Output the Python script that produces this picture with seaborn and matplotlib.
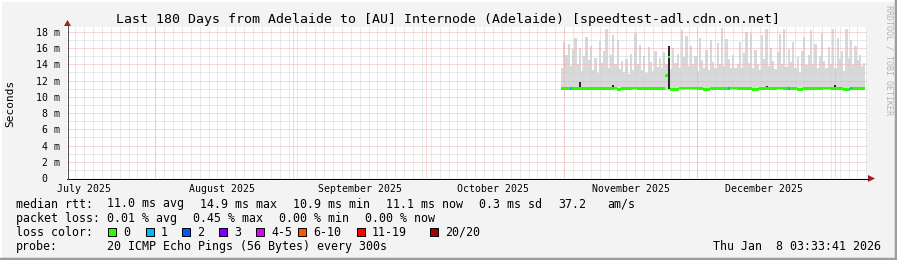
import numpy as np
import pandas as pd
import matplotlib
matplotlib.use("Agg")
import matplotlib.pyplot as plt
from matplotlib.patches import Polygon, Rectangle
from matplotlib.lines import Line2D
import seaborn as sns

# ---------------- data ----------------
end_time = pd.Timestamp("2026-01-08 03:33:41")
range_days = 180
data_start = pd.Timestamp("2025-10-31 07:00")
slot_hours = 12

month_label_dates = ["2025-07-16", "2025-08-16", "2025-09-16", "2025-10-16", "2025-11-16", "2025-12-16"]
month_labels = ["July 2025", "August 2025", "September 2025", "October 2025", "November 2025", "December 2025"]
month_start_dates = ["2025-08-01", "2025-09-01", "2025-10-01", "2025-11-01", "2025-12-01", "2026-01-01"]

y_ticks = [0, 2, 4, 6, 8, 10, 12, 14, 16, 18]
y_tick_labels = ["0  ", "2 m", "4 m", "6 m", "8 m", "10 m", "12 m", "14 m", "16 m", "18 m"]

# smoke spikes (max ping per 12 h slot, ms)
smoke_top = [13.5, 16.8, 15.2, 16.5, 13.8, 15.9, 17.2, 14.0, 16.0, 13.2,
             15.0, 17.4, 14.5, 16.2, 13.0, 14.8, 12.9, 16.9, 14.2, 15.6,
             18.3, 13.6, 15.1, 17.6, 14.0, 17.0, 13.4, 14.4, 13.0, 14.6,
             12.8, 15.3, 13.2, 17.8, 14.1, 16.4, 13.3, 15.0, 12.9, 16.1,
             14.3, 13.1, 15.6, 13.7, 14.8, 13.0, 15.5, 14.0, 16.3, 13.4,
             16.0, 14.2, 15.3, 13.6, 18.2, 14.9, 17.5, 13.8, 16.3, 14.0,
             15.0, 13.2, 17.3, 14.5, 13.6, 15.8, 13.0, 17.0, 14.3, 13.5,
             16.6, 14.0, 18.5, 13.8, 17.1, 14.6, 13.1, 15.2, 13.4, 14.0,
             16.7, 13.6, 15.4, 18.0, 14.2, 17.9, 13.5, 15.8, 14.0, 13.2,
             17.6, 14.6, 18.3, 13.8, 16.0, 14.4, 13.1, 15.5, 17.7, 14.1,
             18.4, 13.7, 15.9, 14.3, 16.8, 13.5, 14.9, 13.0, 15.6, 17.4,
             13.9, 15.2, 18.2, 14.0, 16.5, 13.3, 15.0, 17.8, 14.4, 13.6,
             16.1, 14.0, 18.4, 13.5, 17.2, 14.6, 15.7, 13.2, 18.3, 14.8,
             17.0, 13.9, 16.3, 14.5, 15.2, 13.8, 14.2]
# dense smoke level per 2-day block (ms)
smoke_floor = [13.1, 13.5, 12.9, 13.3, 12.8, 13.4, 13.0, 12.7, 13.3, 12.9,
               13.2, 13.6, 12.8, 13.0, 13.4, 12.9, 13.3, 12.8, 13.2, 13.6,
               13.0, 12.7, 13.3, 12.9, 13.4, 13.0, 12.8, 13.2, 13.5, 12.9,
               13.3, 13.0, 13.4, 12.9, 13.2]
smoke_min = 10.8

# median rtt per slot, ms
median_rtt = [11.0, 11.0, 11.0, 11.0, 11.0, 11.0, 11.0, 11.0, 11.0, 11.0,
              11.0, 11.0, 11.0, 11.0, 11.0, 11.0, 11.0, 11.0, 11.0, 11.0,
              11.0, 11.0, 11.0, 11.0, 11.1, 10.9, 10.9, 11.0, 11.0, 11.0,
              11.0, 11.0, 11.1, 11.1, 11.0, 11.0, 11.0, 11.0, 11.0, 11.0,
              11.0, 11.0, 11.0, 11.0, 11.0, 11.0, 11.0, 12.6, 14.9, 10.9,
              10.9, 10.9, 10.9, 11.1, 11.1, 11.1, 11.1, 11.1, 11.1, 11.1,
              11.1, 11.0, 11.0, 11.0, 10.9, 10.9, 10.9, 11.0, 11.0, 11.0,
              11.0, 11.0, 11.0, 11.0, 11.0, 11.0, 11.1, 11.1, 11.1, 11.0,
              11.0, 11.0, 11.0, 11.0, 11.0, 11.0, 10.9, 10.9, 10.9, 11.0,
              11.0, 11.0, 11.0, 11.0, 11.0, 11.0, 11.0, 11.1, 11.1, 11.1,
              11.0, 11.0, 11.0, 11.0, 11.0, 11.0, 10.9, 10.9, 10.9, 11.0,
              11.0, 11.0, 11.0, 11.0, 11.0, 11.0, 11.0, 11.0, 11.1, 11.1,
              11.1, 11.0, 11.0, 11.0, 11.0, 11.0, 11.0, 10.9, 10.9, 10.9,
              11.0, 11.0, 11.0, 11.0, 11.0, 11.0, 11.0]

# slots with packet loss (count of lost pings)
loss_slots = [4, 75, 102, 130]
loss_counts = ["1", "1", "1", "1"]

# dense (dark) smoke marks
dark_slots = [8, 23, 48, 92, 120, 123]
dark_top = [11.8, 11.4, 16.3, 11.3, 11.2, 11.4]

loss_labels = ["0", "1", "2", "3", "4-5", "6-10", "11-19", "20/20"]
loss_colors = ["#26ff00", "#00b8ff", "#0059ff", "#7e00ff", "#dd00ff", "#ff5500", "#ff0000", "#a10000"]

stat_rtt = ["median rtt:", "11.0 ms avg", "14.9 ms max", "10.9 ms min", "11.1 ms now", "0.3 ms sd", "37.2", "am/s"]
stat_loss = ["packet loss:", "0.01 % avg", "0.45 % max", "0.00 % min", "0.00 % now"]
probe_text = ["probe:", "20 ICMP Echo Pings (56 Bytes) every 300s"]
title = "Last 180 Days from Adelaide to [AU] Internode (Adelaide) [speedtest-adl.cdn.on.net]"
stamp = "Thu Jan  8 03:33:41 2026"

# ---------------- helpers ----------------
start_time = end_time - pd.Timedelta(days=range_days)


def day_of(ts):
    return (pd.Timestamp(ts) - start_time) / pd.Timedelta(days=1)


slot_w = slot_hours / 24.0
n_slots = len(smoke_top)
slot_left = np.array([day_of(data_start) + i * slot_w for i in range(n_slots)])
block_w = 2.0
block_left = np.array([day_of(data_start) + i * block_w for i in range(len(smoke_floor))])
block_w_arr = np.minimum(block_w, slot_left[-1] + slot_w - block_left)

# ---------------- figure ----------------
sns.set_theme(style="white")
plt.rcParams["font.family"] = ["DejaVu Sans Mono"]
W, H = 897, 260
PX = 72.0 / 100.0  # points per pixel
fig = plt.figure(figsize=(W / 100, H / 100), dpi=100, facecolor="#f3f3f3")

ax = fig.add_axes([67 / W, (H - 178) / H, 800 / W, 151 / H])
ax.set_facecolor("white")
ax.set_xlim(0, range_days)
ax.set_ylim(0, 18.6)
for s in ax.spines.values():
    s.set_visible(False)

smoke_col = "#d8d8d8"
# dense smoke
ax.bar(block_left, np.array(smoke_floor) - smoke_min, bottom=smoke_min, width=block_w_arr,
       align="edge", color=smoke_col, linewidth=0, zorder=1)
# smoke spikes
ax.bar(slot_left, np.array(smoke_top) - smoke_min, bottom=smoke_min,
       width=slot_w, align="edge", color=smoke_col, linewidth=0, zorder=1)

# grid
minor_col = "#d2d2d2"
major_col = "#f3b0b0"
gkw = dict(lw=1 * PX, ls=(0, (1, 1)), snap=True)
for v in range(1, 19):
    if v % 2:
        ax.axhline(v, color=minor_col, zorder=2, **gkw)
d = day_of("2025-08-01") - 18.0
while d < range_days:
    ax.axvline(d, color=minor_col, zorder=2, **gkw)
    d += 2
for v in y_ticks[1:]:
    ax.axhline(v, color=major_col, zorder=2.1, **gkw)
for m in month_start_dates:
    ax.axvline(day_of(m), color=major_col, zorder=2.1, **gkw)

# dark smoke
ax.bar(slot_left[dark_slots] + slot_w * 0.05, np.array(dark_top) - 11.0, bottom=11.0,
       width=slot_w * 0.9, align="edge", color="#2a2a2a", linewidth=0, zorder=3)

# median line, coloured by loss (one short dash per slot)
loss_per_slot = ["0"] * n_slots
for s_, c_ in zip(loss_slots, loss_counts):
    loss_per_slot[s_] = c_
cmap = dict(zip(loss_labels, loss_colors))
df = pd.DataFrame({"day": slot_left + slot_w / 2, "median": median_rtt, "loss": loss_per_slot})
for lab in loss_labels:
    sub = df[df["loss"] == lab]
    if len(sub):
        ax.bar(sub["day"], 0.3, bottom=sub["median"] - 0.15, width=slot_w * 1.02,
               color=cmap[lab], linewidth=0, zorder=4)

# ticks
ax.set_xticks([day_of(t) for t in month_label_dates], month_labels, fontsize=7.1)
ax.set_yticks(y_ticks, y_tick_labels, fontsize=7.1)
ax.tick_params(axis="both", length=0, colors="black")
ax.tick_params(axis="x", pad=4.0)
ax.tick_params(axis="y", pad=5.0)
ax.set_xlabel("")
ax.set_ylabel("")
sns.despine(ax=ax, left=True, bottom=True)

# ---------------- overlay (pixel coordinates) ----------------
ov = fig.add_axes([0, 0, 1, 1], facecolor="none")
ov.set_xlim(0, W)
ov.set_ylim(H, 0)
ov.axis("off")

# 3D frame
ov.add_line(Line2D([0, W], [0.8, 0.8], color="white", lw=2 * PX))
ov.add_line(Line2D([0.8, 0.8], [0, H], color="white", lw=2 * PX))
ov.add_line(Line2D([0, W], [H - 1.2, H - 1.2], color="#9c9c9c", lw=2.5 * PX))
ov.add_line(Line2D([W - 1.2, W - 1.2], [0, H], color="#9c9c9c", lw=2.5 * PX))

# axes + arrows
ov.add_line(Line2D([67, 868], [178.5, 178.5], color="black", lw=1 * PX, snap=True))
ov.add_line(Line2D([67.5, 67.5], [178.5, 25], color="#555555", lw=1 * PX, snap=True))
ov.add_patch(Polygon([[868, 175], [868, 182], [875, 178.5]], closed=True, color="#a02020", lw=0))
ov.add_patch(Polygon([[64, 26], [71, 26], [67.5, 20]], closed=True, color="#a02020", lw=0))

# title
ov.text(448.5, 23.5, title, ha="center", va="baseline", fontsize=9.5, color="black")
# y label
ov.text(10, 103, "Seconds", ha="center", va="center", rotation=90, fontsize=8.0, color="black")
# watermark
ov.text(888.5, 60, "RRDTOOL / TOBI OETIKER", ha="center", va="center", rotation=270,
        fontsize=6.0, color="#b4b4b4")

fs = 8.35
rtt_x = [16, 107, 200, 293, 386, 479, 558, 607]
for t, x in zip(stat_rtt, rtt_x):
    ov.text(x, 207.5, t, ha="left", va="baseline", fontsize=fs, color="black")
loss_x = [16, 107, 193, 279, 365]
for t, x in zip(stat_loss, loss_x):
    ov.text(x, 221.8, t, ha="left", va="baseline", fontsize=fs, color="black")
ov.text(16, 235.8, "loss color:", ha="left", va="baseline", fontsize=fs, color="black")
sq_x = [108, 146, 182, 219, 256, 298, 357, 430]
for lab, col, x in zip(loss_labels, loss_colors, sq_x):
    ov.add_patch(Rectangle((x, 228), 8, 8, facecolor=col, edgecolor="black", lw=1 * PX))
    ov.text(x + 15, 235.8, lab, ha="left", va="baseline", fontsize=fs, color="black")
probe_x = [16, 107]
for t, x in zip(probe_text, probe_x):
    ov.text(x, 250, t, ha="left", va="baseline", fontsize=fs, color="black")
ov.text(881, 250, stamp, ha="right", va="baseline", fontsize=fs, color="black")

fig.savefig("out.png", dpi=100, facecolor=fig.get_facecolor())
